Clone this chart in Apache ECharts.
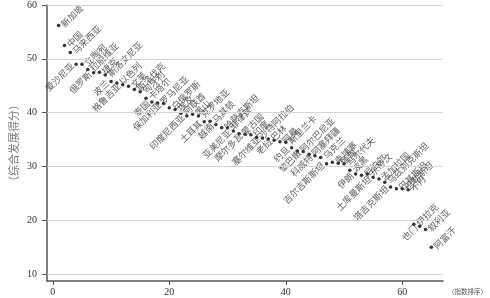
<!DOCTYPE html>
<html><head><meta charset="utf-8">
<script src="https://cdn.jsdelivr.net/npm/echarts@6/dist/echarts.min.js"></script>
<style>html,body{margin:0;padding:0;background:#fff}#c{width:490px;height:298px}</style>
</head><body><div id="c"></div>
<script>
const countries = ['新加坡','中国','马来西亚','爱沙尼亚','立陶宛','拉脱维亚','俄罗斯','捷克','斯洛文尼亚','波兰',
'以色列','格鲁吉亚','文莱','斯洛伐克','匈牙利','卡塔尔','泰国','罗马尼亚','保加利亚','白俄罗斯',
'埃及','阿联酋','印度尼西亚','黑山','克罗地亚','土耳其','马其顿','越南','哈萨克斯坦','菲律宾',
'亚美尼亚','蒙古国','摩尔多瓦','印度','沙特阿拉伯','塞尔维亚','巴林','老挝','阿曼','斯里兰卡',
'约旦','阿尔巴尼亚','黎巴嫩','阿塞拜疆','科威特','乌克兰','吉尔吉斯斯坦','柬埔寨','缅甸','马尔代夫',
'波黑','伊朗','尼泊尔','东帝汶','土库曼斯坦','孟加拉国','乌兹别克斯坦','塔吉克斯坦','巴基斯坦','巴勒斯坦',
'不丹','伊拉克','也门','叙利亚','阿富汗'];
const ranks = [1,2,3,4,5,6,7,8,9,10,11,12,13,14,15,16,17,18,19,20,21,22,23,24,25,26,27,28,29,30,
31,32,33,34,35,36,37,38,39,40,41,42,43,44,45,46,47,48,49,50,51,52,53,54,55,56,57,58,59,60,61,62,63,64,65];
const scores = [56.2,52.5,51.2,49.0,49.0,48.0,47.4,47.5,47.0,45.8,
45.5,45.2,44.9,44.3,43.9,42.7,42.0,41.8,41.7,40.9,
40.6,39.9,39.4,39.7,39.4,38.3,38.4,37.8,37.2,37.2,
36.6,36.1,36.0,35.9,35.4,35.3,35.1,34.9,34.6,34.5,
33.5,32.9,32.8,32.3,32.0,31.7,30.5,30.8,30.6,30.5,
29.3,28.6,28.4,28.6,28.0,27.7,27.1,26.2,25.9,25.9,
25.7,19.3,18.9,18.3,15.0];
const leftLabeled = ['爱沙尼亚','俄罗斯','波兰','格鲁吉亚','泰国','保加利亚','印度尼西亚','土耳其','越南','亚美尼亚',
'摩尔多瓦','塞尔维亚','老挝','约旦','黎巴嫩','科威特','吉尔吉斯斯坦','伊朗','土库曼斯坦','塔吉克斯坦','也门'];
const xTicks = [0,20,40,60];
const yTicks = [10,20,30,40,50,60];

const X_MIN = -1, X_MAX = 67, Y_MIN = 8.75, Y_MAX = 60;

const chart = echarts.init(document.getElementById('c'));
const data = countries.map((n,i)=>{
  const left = leftLabeled.includes(n);
  return {name:n, value:[ranks[i], scores[i]], label:{position: left?'left':'right'}};
});
const serif = 'Liberation Serif';
const axisCol = '#555';
const gridLines = yTicks.map(v=>[{coord:[X_MIN,v]},{coord:[X_MAX,v]}]);
chart.setOption({
  animation:false,
  grid:{left:38,right:45,top:3,bottom:17},
  xAxis:{type:'value',min:X_MIN,max:X_MAX,
      name:'（指数排序）',nameLocation:'end',nameGap:5,nameMoveOverlap:false,
      nameTextStyle:{fontSize:6.5,color:'#555',fontFamily:'Noto Sans CJK SC',verticalAlign:'top',padding:[7,0,0,0]},
      axisLine:{show:true,onZero:false,lineStyle:{color:axisCol,width:1.5}},
      axisTick:{show:true,length:4,customValues:xTicks,lineStyle:{color:axisCol}},
      axisLabel:{customValues:xTicks,fontFamily:serif,fontSize:10,color:'#333',margin:6},
      splitLine:{show:false}},
  yAxis:{type:'value',min:Y_MIN,max:Y_MAX,
      name:'（综合发展得分）',nameLocation:'middle',nameRotate:90,nameGap:28,nameMoveOverlap:false,
      nameTextStyle:{fontSize:11,color:'#777',fontFamily:'Noto Sans CJK SC'},
      axisLine:{show:true,onZero:false,lineStyle:{color:axisCol,width:1.5}},
      axisTick:{show:true,length:5,customValues:yTicks,lineStyle:{color:axisCol}},
      axisLabel:{customValues:yTicks,fontFamily:serif,fontSize:10,color:'#333',margin:10},
      splitLine:{show:false}},
  series:[
    {type:'line',data:[],silent:true,clip:false,z:1,
      markLine:{silent:true,symbol:['none','none'],label:{show:false},animation:false,
        lineStyle:{color:'#d4d4d4',type:'solid',width:1},data:gridLines}},
    {type:'scatter',symbolSize:3.5,itemStyle:{color:'#000'},clip:false,
      data:data,
      label:{show:true,formatter:'{b}',rotate:45,distance:2,fontSize:9,color:'#333',fontFamily:'Noto Sans CJK SC'},
      z:3}
  ]
});
</script></body></html>
